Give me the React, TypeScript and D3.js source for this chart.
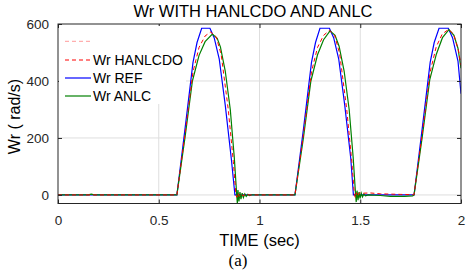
import * as d3 from 'd3';
import { useEffect, useRef } from 'react';

const chartTitle = 'Wr WITH HANLCDO AND ANLC';
const xLabel = 'TIME (sec)';
const yLabel = 'Wr ( rad/s)';
const caption = '(a)';
const xTicks = [0, 0.5, 1, 1.5, 2];
const yTicks = [0, 200, 400, 600];
const legendLabels = ['', 'Wr HANLCDO', 'Wr REF', 'Wr ANLC'];

// [time (s), speed (rad/s)]
const wrRef: [number, number][] = [
  [0, 0], [0.59, 0], [0.63, 230], [0.67, 465], [0.69, 535], [0.713, 585], [0.754, 585],
  [0.775, 552], [0.8, 478], [0.83, 315], [0.86, 128], [0.878, 0], [1.176, 0],
  [1.218, 230], [1.258, 465], [1.278, 535], [1.3, 585], [1.347, 585], [1.368, 552],
  [1.393, 478], [1.423, 315], [1.453, 128], [1.466, 0], [1.767, 0],
  [1.807, 230], [1.847, 465], [1.867, 535], [1.891, 585], [1.937, 585], [1.958, 552],
  [1.985, 470], [2.0, 355],
];

const wrHanlcdo: [number, number][] = [
  [0, 0], [0.59, 0], [0.63, 212], [0.67, 432], [0.7, 518], [0.73, 558], [0.758, 572],
  [0.785, 555], [0.81, 492], [0.845, 300], [0.87, 118], [0.883, 0], [0.888, -8],
  [0.893, 6], [0.9, -5], [0.908, 4], [0.918, -3], [0.93, 2], [0.95, 0], [1.176, 0],
  [1.218, 212], [1.258, 432], [1.288, 518], [1.318, 560], [1.347, 578], [1.373, 560],
  [1.398, 495], [1.433, 300], [1.458, 118], [1.471, 0], [1.476, -10], [1.481, 8],
  [1.488, -4], [1.496, 8], [1.51, 6], [1.55, 7], [1.6, 4], [1.7, 2], [1.767, 1],
  [1.807, 212], [1.847, 432], [1.877, 520], [1.907, 565], [1.938, 581], [1.963, 565],
  [1.988, 505], [2.0, 455],
];

const wrAnlc: [number, number][] = [
  [0, 0], [0.15, 0], [0.165, 3], [0.18, 0], [0.59, 0], [0.63, 200], [0.667, 400],
  [0.7, 490], [0.73, 538], [0.766, 565], [0.79, 550], [0.806, 520], [0.83, 435],
  [0.855, 300], [0.875, 130], [0.887, 0], [0.89, -30], [0.893, 17], [0.898, -23],
  [0.903, 10], [0.908, -15], [0.914, 6], [0.92, -9], [0.927, 4], [0.934, -5],
  [0.942, 2], [0.95, -2], [0.96, 0], [1.176, 0],
  [1.218, 200], [1.255, 400], [1.288, 492], [1.318, 545], [1.35, 576], [1.375, 560],
  [1.395, 522], [1.42, 435], [1.445, 300], [1.465, 130], [1.477, 0], [1.48, -25],
  [1.484, 15], [1.489, -18], [1.494, 10], [1.499, -12], [1.505, 6], [1.511, -7],
  [1.518, 3], [1.526, -3], [1.54, 0], [1.6, -2], [1.65, -5], [1.72, -5], [1.76, -3],
  [1.767, 0],
  [1.807, 200], [1.845, 405], [1.878, 495], [1.908, 552], [1.94, 580], [1.965, 560],
  [1.985, 515], [2.0, 445],
];

const App = () => {
  const svgRef = useRef<SVGSVGElement>(null);

  useEffect(() => {
    const svg = d3.select(svgRef.current);
    svg.selectAll('*').remove();

    const width = 471;
    const height = 275;
    const margin = { top: 24, right: 10, bottom: 71.5, left: 58 };
    const font = '"Liberation Sans", Arial, sans-serif';
    const ink = '#262626';

    const x = d3.scaleLinear().domain([0, 2]).range([margin.left, width - margin.right]);
    const y = d3.scaleLinear().domain([-30, 600]).range([height - margin.bottom, margin.top]);
    const [x0, x1] = x.range();
    const [yb, yt] = y.range();

    // grid
    svg.append('g')
      .selectAll('line')
      .data(xTicks.slice(1, -1))
      .enter().append('line')
      .attr('x1', d => x(d)).attr('x2', d => x(d))
      .attr('y1', yt).attr('y2', yb)
      .attr('stroke', '#dedede');
    svg.append('g')
      .selectAll('line')
      .data(yTicks.slice(0, -1))
      .enter().append('line')
      .attr('x1', x0).attr('x2', x1)
      .attr('y1', d => y(d)).attr('y2', d => y(d))
      .attr('stroke', '#dedede');

    // series
    svg.append('clipPath').attr('id', 'plotclip')
      .append('rect').attr('x', x0).attr('y', yt).attr('width', x1 - x0).attr('height', yb - yt);

    const line = d3.line<[number, number]>().x(d => x(d[0])).y(d => y(d[1]));
    const plot = svg.append('g').attr('clip-path', 'url(#plotclip)');
    plot.append('path').attr('d', line(wrRef)).attr('fill', 'none')
      .attr('stroke', '#0000ff').attr('stroke-width', 1.2);
    plot.append('path').attr('d', line(wrAnlc)).attr('fill', 'none')
      .attr('stroke', '#008000').attr('stroke-width', 1.2);
    plot.append('path').attr('d', line(wrHanlcdo)).attr('fill', 'none')
      .attr('stroke', '#ff0000').attr('stroke-width', 1).attr('stroke-dasharray', '4,3');

    // axes
    const styleAxis = (g: any) => {
      g.select('.domain').remove();
      g.selectAll('line').attr('stroke', ink);
      g.selectAll('text').attr('fill', ink).attr('font-family', font).attr('font-size', 13.5);
    };
    svg.append('g').attr('transform', `translate(0,${yb})`)
      .call(d3.axisBottom(x).tickValues(xTicks).tickSizeInner(-4).tickSizeOuter(0).tickPadding(12).tickFormat(d3.format('')))
      .call(styleAxis);
    svg.append('g').attr('transform', `translate(0,${yt})`)
      .call(d3.axisTop(x).tickValues(xTicks).tickSizeInner(-4).tickSizeOuter(0).tickFormat(() => ''))
      .call(styleAxis);
    svg.append('g').attr('transform', `translate(${x0},0)`)
      .call(d3.axisLeft(y).tickValues(yTicks).tickSizeInner(-4).tickSizeOuter(0).tickPadding(9))
      .call(styleAxis);
    svg.append('g').attr('transform', `translate(${x1},0)`)
      .call(d3.axisRight(y).tickValues(yTicks).tickSizeInner(-4).tickSizeOuter(0).tickFormat(() => ''))
      .call(styleAxis);

    svg.append('rect')
      .attr('x', x0).attr('y', yt).attr('width', x1 - x0).attr('height', yb - yt)
      .attr('fill', 'none').attr('stroke', ink).attr('stroke-width', 1);

    // legend
    const legend = svg.append('g');
    legend.append('rect').attr('x', x0 + 1).attr('y', yt + 2).attr('width', 127).attr('height', 78).attr('fill', '#fff');
    const legendStyles = [
      { color: '#ff9a9a', dash: '4,3', w: 1 },
      { color: '#ff0000', dash: '4,3', w: 1 },
      { color: '#0000ff', dash: null, w: 1.2 },
      { color: '#008000', dash: null, w: 1.2 },
    ];
    const rowY = [41.3, 60, 78, 96];
    legendLabels.forEach((label, i) => {
      legend.append('line')
        .attr('x1', 65).attr('x2', 91).attr('y1', rowY[i]).attr('y2', rowY[i])
        .attr('stroke', legendStyles[i].color).attr('stroke-width', legendStyles[i].w)
        .attr('stroke-dasharray', legendStyles[i].dash);
      legend.append('text')
        .attr('x', 93).attr('y', rowY[i]).attr('dy', '0.36em')
        .attr('font-family', font).attr('font-size', 14).attr('fill', '#000')
        .text(label);
    });

    // titles
    svg.append('text').attr('x', 253).attr('y', 17).attr('text-anchor', 'middle')
      .attr('font-family', font).attr('font-size', 16.5).attr('fill', '#000').text(chartTitle);
    svg.append('text').attr('x', (x0 + x1) / 2).attr('y', 246).attr('text-anchor', 'middle')
      .attr('font-family', font).attr('font-size', 16.5).attr('fill', '#000').text(xLabel);
    svg.append('text').attr('transform', `translate(20,116.5) rotate(-90)`).attr('text-anchor', 'middle')
      .attr('font-family', font).attr('font-size', 16).attr('fill', '#000').text(yLabel);
    svg.append('text').attr('x', 238).attr('y', 265.5).attr('text-anchor', 'middle')
      .attr('font-family', '"Liberation Serif", "Times New Roman", serif').attr('font-size', 17)
      .attr('fill', '#000').text(caption);
  }, []);

  return (
    <svg ref={svgRef} width={471} height={275}
      style={{ position: 'absolute', left: 0, top: 0, background: '#fff' }} />
  );
};

export default App;
